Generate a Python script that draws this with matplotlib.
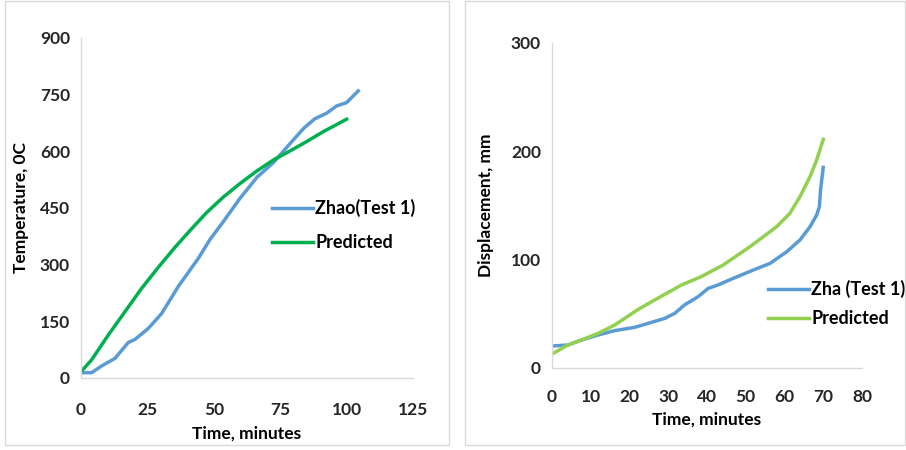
import numpy as np
import matplotlib.pyplot as plt
from matplotlib.patches import Rectangle

plt.rcParams['font.family'] = ['Lato', 'DejaVu Sans']
plt.rcParams['font.weight'] = 'bold'

# --- left panel: temperature vs time
zhao_t = [0.3, 4, 7.8, 12.8, 17.8, 20.3, 25.3, 30.4, 36.6, 44.2, 48.6, 53.6,
          59.9, 63.6, 66.2, 72.4, 74.9, 79.9, 84, 88, 92.5, 96.2, 100, 104.4]
zhao_temp = [14, 14, 32, 52, 94, 102, 131, 171, 242, 317, 367, 414,
             476, 508, 531, 570, 590, 630, 662, 686, 701, 720, 729, 760]
pred_t = [0.3, 4, 10.3, 16.6, 22.8, 29.1, 35.4, 41, 47.3, 53.6, 59.9,
          66.2, 72.4, 78.7, 85, 91.2, 100]
pred_temp = [19, 48, 114, 176, 237, 293, 346, 390, 438, 479, 515,
             548, 577, 601, 626, 652, 685]

# --- right panel: displacement vs time
zha_t = [0, 4.1, 7.6, 11.9, 16.2, 21.3, 24.8, 29.1, 31.7, 34.2, 37.7, 40.3,
         42.8, 46.8, 52, 56.3, 60.6, 64, 66.6, 68.3, 69, 69.3, 70]
zha_disp = [20.3, 21.2, 25.8, 30.5, 34.5, 37.5, 41.2, 45.8, 50.5, 58.2, 65.8, 73.5,
            76.6, 82.8, 90.5, 96.6, 107.4, 118.2, 130.5, 141.2, 148.9, 164.3, 185.2]
pdisp_t = [0, 4.1, 7.6, 11.9, 16.2, 22.2, 26.5, 33.4, 38.5, 44.2, 51.1, 58,
           61.4, 64, 66.6, 68.3, 70]
pdisp = [12.9, 21.2, 25.8, 32, 39.7, 54, 62.8, 76.6, 84.3, 95.1, 112, 130.5,
         142.8, 158.2, 176.7, 192, 211]

W, H = 906, 450
fig = plt.figure(figsize=(W / 100, H / 100), dpi=100)

# panel frames
for x0, x1 in [(5, 449), (465, 905)]:
    fig.patches.append(Rectangle((x0 / W, 5 / H), (x1 - x0) / W, 444 / H,
                                 transform=fig.transFigure, fill=False,
                                 edgecolor='#D9D9D9', linewidth=1))

def style(ax):
    for s in ['top', 'right']:
        ax.spines[s].set_visible(False)
    for s in ['left', 'bottom']:
        ax.spines[s].set_color('#D9D9D9')
        ax.spines[s].set_linewidth(1)
    ax.tick_params(length=0, labelsize=12.5, colors='#262626')
    ax.tick_params(axis='x', pad=17)
    ax.tick_params(axis='y', pad=8)

def legend(ax, x, y, spacing):
    # x, y: pixel position of the legend's upper left corner
    ax.legend(loc='upper left', bbox_to_anchor=(x / W, 1 - y / H),
              bbox_transform=fig.transFigure, frameon=False, fontsize=13,
              borderpad=0, borderaxespad=0, handlelength=2.25,
              handletextpad=0.15, labelspacing=spacing)

ax1 = fig.add_axes([81 / W, (H - 378) / H, 332 / W, 340 / H])
ax1.plot(zhao_t, zhao_temp, color='#5B9BD5', lw=2.5, label='Zhao(Test 1)')
ax1.plot(pred_t, pred_temp, color='#00B050', lw=2.5, label='Predicted')
ax1.set_xlim(0, 125)
ax1.set_ylim(0, 900)
ax1.set_xticks(np.arange(0, 126, 25))
ax1.set_yticks(np.arange(0, 901, 150))
style(ax1)
ax1.set_xlabel('Time, minutes', fontsize=12.5, fontweight='bold', labelpad=6)
ax1.set_ylabel('Temperature, 0C', fontsize=12.5, fontweight='bold', labelpad=8)
legend(ax1, 272, 199, 0.95)

ax2 = fig.add_axes([552 / W, (H - 368) / H, 310 / W, 325 / H])
ax2.plot(zha_t, zha_disp, color='#5B9BD5', lw=2.5, label='Zha (Test 1)')
ax2.plot(pdisp_t, pdisp, color='#92D050', lw=2.5, label='Predicted')
ax2.set_xlim(0, 80)
ax2.set_ylim(0, 300)
ax2.set_xticks(np.arange(0, 81, 10))
ax2.set_yticks(np.arange(0, 301, 100))
style(ax2)
ax2.tick_params(axis='x', pad=15)
ax2.set_xlabel('Time, minutes', fontsize=12.5, fontweight='bold', labelpad=5)
ax2.set_ylabel('Displacement, mm', fontsize=12.5, fontweight='bold', labelpad=12)
legend(ax2, 768, 280, 0.65)

fig.savefig('out.png', dpi=100)
